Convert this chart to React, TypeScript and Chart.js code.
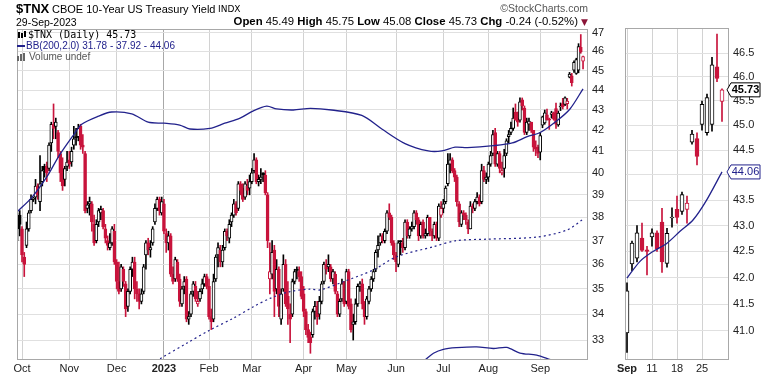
import React, { useEffect, useRef } from 'react';
import { Chart, registerables } from 'chart.js';

Chart.register(...registerables);

// ---------- data ----------
// trading days: index 0 = 29-Sep-2022 ... index 251 = 29-Sep-2023
const monthTickIdx = [2, 23, 44, 65, 85, 104, 127, 146, 168, 189, 209, 232];
const monthTickLabels = ['Oct', 'Nov', 'Dec', '2023', 'Feb', 'Mar', 'Apr', 'May', 'Jun', 'Jul', 'Aug', 'Sep'];
const mainYTicks = [33, 34, 35, 36, 37, 38, 39, 40, 41, 42, 43, 44, 45, 46, 47];

const opens = [
  38.0, 38.1,
  37.5, 36.3, 36.8, 37.5, 38.3, 38.8, 38.9, 39.4, 38.7, 39.6, 40.3, 40.3, 40.2, 41.4, 42.3, 42.2, 41.9, 40.9, 40.2, 39.7, 40.3,
  40.6, 40.5, 41.3, 41.7, 41.7, 42.2, 41.3, 40.9, 38.4, 38.6, 38.6, 37.7, 37.0, 37.8, 38.2, 38.3, 37.5, 37.0, 36.7, 36.9, 37.4,
  36.1, 35.3, 35.0, 35.8, 35.2, 34.3, 34.9, 35.8, 36.1, 35.0, 34.8, 34.5, 34.9, 36.4, 36.9, 36.6, 36.9, 37.8, 38.4, 38.8, 38.2,
  38.6, 37.3, 36.9, 37.2, 35.6, 35.4, 36.1, 35.4, 34.4, 35.1, 35.4, 33.8, 34.0, 34.9, 35.1, 34.4, 34.6, 35.0, 35.2, 35.5,
  35.1, 33.9, 33.8, 35.4, 36.4, 36.6, 36.1, 36.7, 37.4, 37.1, 37.8, 38.1, 38.6, 38.4, 39.5, 39.3, 38.9, 39.4, 39.3,
  39.6, 40.1, 40.6, 39.6, 39.7, 40.0, 39.9, 39.0, 35.4, 35.6, 36.6, 35.0, 35.8, 33.8, 35.0, 36.0, 34.7, 34.0, 34.0, 35.3, 35.8, 35.7, 35.5,
  34.8, 34.1, 33.4, 33.1, 33.2, 34.1, 34.3, 34.0, 34.5, 35.3, 36.0, 35.9, 35.9, 35.4, 35.6, 34.8, 34.0, 34.6, 35.3,
  34.5, 35.7, 34.4, 33.6, 33.7, 34.4, 35.1, 35.2, 34.4, 33.9, 34.5, 35.0, 35.4, 35.8, 36.6, 36.9, 37.2, 37.0, 37.4, 38.2, 38.0, 36.9,
  36.4, 36.0, 37.0, 36.9, 36.7, 37.8, 37.2, 37.5, 37.6, 38.2, 37.9, 37.2, 37.8, 37.2, 37.3, 38.0, 37.4, 37.2, 37.7, 37.1, 38.1,
  38.4, 38.7, 39.5, 40.4, 40.6, 40.1, 39.8, 38.6, 37.7, 38.2, 38.1, 37.8, 37.5, 38.5, 38.4, 38.7, 38.9, 38.7, 40.1, 39.7,
  39.8, 40.4, 40.9, 41.9, 40.4, 40.9, 40.0, 40.2, 40.9, 41.7, 41.9, 42.1, 42.9, 42.6, 42.5, 43.5, 43.1, 41.9, 42.3, 42.4, 42.0, 41.2, 41.2,
  40.96, 42.26, 42.37, 42.76, 42.53, 42.78, 42.86, 43.07, 42.27, 43.15, 43.32, 43.28, 43.32, 44.66, 44.73, 45.02, 44.85, 45.02, 46.21, 45.49,
];
const highs = [
  38.2, 38.3,
  37.6, 36.5, 37.8, 38.3, 39.0, 38.9, 39.7, 39.5, 40.8, 40.3, 40.4, 40.5, 41.4, 42.4, 43.3, 42.6, 42.0, 41.0, 40.7, 40.3, 41.0,
  41.0, 41.2, 42.2, 42.1, 42.3, 42.3, 41.8, 41.0, 38.7, 38.9, 38.7, 38.1, 37.9, 38.4, 38.5, 38.4, 37.7, 37.2, 37.3, 37.6, 37.7,
  36.2, 36.1, 36.0, 35.9, 35.3, 35.0, 35.9, 36.3, 36.3, 35.3, 35.0, 35.0, 36.0, 37.0, 37.1, 37.0, 37.6, 38.6, 38.9, 38.9, 38.9,
  38.8, 37.5, 37.4, 37.3, 35.9, 36.3, 36.2, 35.6, 35.1, 35.5, 35.5, 34.1, 34.9, 35.3, 35.3, 34.9, 35.0, 35.4, 35.6, 35.6,
  35.4, 34.2, 35.6, 36.4, 36.9, 36.8, 36.8, 37.5, 37.5, 37.9, 38.2, 38.8, 38.7, 39.6, 39.6, 39.5, 39.6, 39.7, 39.9,
  40.2, 40.9, 40.7, 39.9, 40.2, 40.0, 40.1, 39.1, 36.9, 37.0, 36.8, 36.2, 35.9, 35.0, 36.4, 36.2, 35.3, 34.4, 35.4, 35.8, 35.9, 35.9, 35.7,
  35.1, 34.2, 33.6, 33.3, 34.2, 34.5, 34.5, 34.7, 35.3, 36.1, 36.2, 36.4, 36.0, 35.8, 35.7, 34.9, 34.6, 35.4, 35.3,
  35.8, 35.8, 34.6, 34.0, 34.6, 35.2, 35.3, 35.4, 34.5, 34.7, 35.1, 35.5, 35.8, 36.6, 37.2, 37.3, 37.3, 37.5, 38.3, 38.6, 38.1, 37.0,
  36.5, 37.0, 37.0, 37.1, 37.9, 37.9, 37.6, 37.8, 38.3, 38.3, 38.0, 37.8, 37.9, 37.5, 38.1, 38.0, 37.5, 37.8, 37.8, 38.6, 38.7,
  38.8, 39.4, 40.9, 40.9, 40.7, 40.2, 39.9, 38.7, 38.3, 38.3, 38.2, 37.9, 38.7, 38.6, 38.8, 39.1, 39.0, 40.4, 40.3, 40.0,
  40.5, 41.0, 42.0, 42.1, 41.0, 41.0, 40.5, 41.1, 41.6, 42.0, 42.4, 43.1, 43.3, 42.9, 43.6, 43.6, 43.2, 42.6, 42.6, 42.4, 42.0, 41.5, 41.3,
  41.9, 42.7, 43.0, 43.05, 42.6, 42.94, 42.9, 43.34, 42.95, 43.35, 43.58, 43.66, 43.58, 44.9, 44.85, 45.5, 45.64, 46.41, 46.9, 45.75,
];
const lows = [
  37.0, 37.2,
  36.1, 35.5, 36.7, 37.4, 38.2, 38.7, 38.6, 38.8, 38.3, 39.4, 39.8, 39.6, 40.1, 41.0, 41.6, 41.6, 40.7, 39.6, 39.2, 39.4, 40.1,
  40.2, 40.3, 41.1, 41.3, 41.5, 41.1, 40.9, 38.2, 38.2, 38.1, 37.4, 36.8, 36.9, 37.6, 37.9, 37.5, 36.9, 36.6, 36.6, 36.8, 36.0,
  35.0, 34.8, 34.9, 35.1, 33.9, 34.1, 34.8, 35.5, 34.6, 34.5, 34.2, 34.4, 34.8, 35.8, 36.4, 36.3, 36.8, 37.7, 38.3, 38.1, 38.1,
  37.3, 36.5, 36.6, 35.5, 35.2, 35.3, 35.3, 34.3, 34.3, 34.8, 33.7, 33.6, 33.9, 34.7, 34.5, 34.3, 34.5, 34.8, 35.1, 35.0,
  33.8, 33.4, 33.7, 35.3, 35.9, 35.9, 35.9, 36.6, 37.0, 36.9, 37.6, 38.0, 38.1, 38.3, 39.0, 38.7, 38.8, 39.0, 39.0,
  39.5, 40.0, 39.5, 39.4, 39.5, 39.6, 39.0, 36.7, 34.8, 35.4, 33.9, 34.8, 33.9, 33.6, 34.9, 34.3, 33.6, 32.9, 33.9, 35.2, 35.4, 35.3, 34.6,
  33.9, 33.2, 32.9, 32.5, 33.1, 33.8, 33.6, 33.8, 34.4, 35.2, 35.6, 35.7, 35.3, 35.2, 34.8, 33.9, 33.9, 34.5, 34.3,
  34.4, 34.2, 33.3, 33.0, 33.6, 34.3, 34.9, 34.2, 33.6, 33.8, 34.4, 34.9, 35.3, 35.7, 36.3, 36.8, 36.9, 36.9, 37.3, 37.9, 36.8, 36.2,
  35.7, 35.9, 36.4, 36.5, 36.6, 37.1, 37.1, 37.4, 37.5, 37.7, 37.0, 37.1, 37.1, 37.1, 37.2, 37.2, 37.0, 37.1, 37.0, 37.0, 38.0,
  38.2, 38.6, 39.4, 40.0, 40.0, 39.6, 38.5, 37.6, 37.6, 37.9, 37.7, 37.3, 37.5, 38.2, 38.3, 38.6, 38.5, 38.6, 39.6, 39.5,
  39.6, 40.3, 40.8, 40.3, 40.3, 40.0, 39.9, 39.8, 40.8, 41.4, 41.8, 42.0, 42.5, 42.2, 42.4, 43.0, 41.8, 41.8, 42.0, 41.9, 41.0, 40.8, 40.7,
  40.6, 42.13, 42.3, 42.5, 42.05, 42.6, 42.5, 42.1, 42.2, 42.97, 43.05, 43.22, 43.05, 44.62, 44.2, 44.9, 44.8, 44.88, 45.9, 45.08,
];
const closes = [
  37.5, 37.7,
  36.4, 36.0, 37.5, 38.2, 38.8, 38.85, 39.4, 39.0, 39.5, 40.1, 40.15, 40.0, 41.3, 42.3, 42.1, 42.4, 41.0, 40.0, 39.4, 40.2, 40.5,
  40.4, 41.0, 41.6, 41.65, 42.1, 41.3, 41.2, 38.3, 38.55, 38.7, 37.8, 36.9, 37.7, 38.3, 38.35, 37.6, 37.1, 36.8, 36.9, 37.5, 36.1,
  35.3, 34.9, 35.9, 35.3, 34.2, 34.9, 35.8, 36.1, 35.0, 34.8, 34.5, 34.8, 35.9, 36.9, 36.6, 36.7, 37.5, 38.4, 38.8, 38.3, 38.7,
  37.4, 36.9, 37.2, 35.6, 35.3, 36.2, 35.4, 34.5, 35.0, 35.3, 33.8, 33.9, 34.8, 35.2, 34.6, 34.5, 34.9, 35.2, 35.5, 35.1,
  33.9, 33.7, 35.3, 36.3, 36.7, 36.1, 36.6, 37.4, 37.2, 37.7, 38.1, 38.6, 38.2, 39.5, 39.2, 38.8, 39.5, 39.2, 39.6,
  40.0, 40.6, 39.6, 39.7, 39.8, 39.9, 39.1, 37.0, 35.7, 36.5, 34.9, 35.8, 34.3, 34.8, 36.0, 34.4, 34.2, 33.8, 35.3, 35.7, 35.75, 35.5, 34.7,
  34.1, 33.4, 33.1, 32.9, 34.1, 34.3, 33.9, 34.5, 35.2, 36.0, 35.8, 36.0, 35.4, 35.7, 34.9, 34.0, 34.5, 35.2, 34.4,
  35.7, 34.3, 33.4, 33.7, 34.4, 35.1, 35.2, 34.4, 33.9, 34.6, 35.0, 35.4, 35.7, 36.5, 36.8, 37.2, 37.0, 37.4, 38.2, 38.0, 36.9, 36.4,
  36.1, 36.9, 36.95, 36.7, 37.8, 37.2, 37.5, 37.6, 38.2, 37.9, 37.2, 37.7, 37.2, 37.3, 38.0, 37.4, 37.2, 37.7, 37.1, 38.5, 38.4,
  38.6, 39.3, 40.4, 40.6, 40.1, 39.8, 38.7, 37.8, 38.2, 38.1, 37.9, 37.5, 38.5, 38.4, 38.7, 38.9, 38.6, 40.1, 39.7, 39.8,
  40.4, 40.8, 41.8, 40.4, 40.9, 40.2, 40.1, 40.8, 41.5, 41.8, 42.1, 42.6, 42.5, 42.4, 43.4, 43.2, 41.9, 42.4, 42.45, 42.0, 41.2, 41.1, 40.9,
  41.75, 42.66, 42.86, 42.52, 42.5, 42.86, 42.55, 42.3, 42.85, 43.17, 43.16, 43.61, 43.44, 44.82, 44.37, 45.43, 45.57, 46.25, 45.97, 45.73,
];

// Bollinger Bands (200, 2.0): [trading-day index, value]
const bbUpperIdx = [0, 6.5, 13, 18.5, 25, 28.5, 36, 41.8, 50.7, 58, 65, 72, 76.5, 85.4, 92, 98.8, 104.7, 110.6, 115, 122.4, 130, 139.4, 152.8, 161.7, 172, 182.3, 188.3, 194.2, 199.7, 211.2, 219.6, 226.2, 232, 239.4, 245.2, 251];
const bbUpperVal = [38.26, 38.9, 39.81, 40.8, 41.8, 42.3, 42.7, 42.9, 42.81, 42.4, 42.35, 42.26, 42.07, 42.1, 42.35, 42.6, 42.96, 43.19, 43.05, 43.0, 43.08, 43.0, 42.73, 42.07, 41.37, 41.02, 41.02, 41.2, 41.18, 41.27, 41.4, 41.7, 41.9, 42.47, 43.05, 44.06];
const bbMidIdx = [63.3, 75.1, 85.4, 95.8, 104.7, 112.1, 120.9, 129.8, 134.3, 144.6, 157.9, 168.3, 184.6, 194.9, 208.3, 230.4, 243.8, 251];
const bbMidVal = [32.3, 32.88, 33.38, 33.84, 34.29, 34.62, 34.89, 34.99, 34.96, 35.29, 35.77, 36.32, 36.74, 37.0, 37.06, 37.15, 37.45, 37.92];
const bbLowIdx = [180.9, 184.6, 189, 194.9, 203.8, 211.2, 217.1, 223, 230.4, 236.5];
const bbLowVal = [32.25, 32.5, 32.65, 32.71, 32.74, 32.68, 32.72, 32.51, 32.43, 32.26];

// September zoom panel
const sepStart = 232;
const sepTickIdx = [0, 5, 10, 15];
const sepTickLabels = ['Sep', '11', '18', '25'];
const sideYTicks = [41, 41.5, 42, 42.5, 43, 43.5, 44, 44.5, 45, 45.5, 46, 46.5];
const sideBBIdx = [0, 2.6, 5.2, 8, 10.6, 13.2, 15.8, 19];
const sideBBVal = [41.99, 42.31, 42.5, 42.66, 42.89, 43.11, 43.48, 44.06];
const lastClose = 45.73;
const lastUpperBB = 44.06;

// ---------- styling ----------
const RED = '#c8143c';
const INK = '#000000';
const NAVY = '#22228c';
const FONT = "'Liberation Sans', Arial, sans-serif";

Chart.defaults.font.family = FONT;

function candleSets(from: number, to: number, shift: number, bodyW: number) {
  const wicks: any[] = [];
  const bodies: any[] = [];
  const edge: string[] = [];
  const fill: string[] = [];
  for (let i = from; i <= to; i++) {
    const up = i === 0 || closes[i] >= closes[i - 1];
    const col = up ? INK : RED;
    const hollow = closes[i] >= opens[i];
    wicks.push({ x: i - shift, y: [lows[i], highs[i]] });
    bodies.push({ x: i - shift, y: [Math.min(opens[i], closes[i]), Math.max(opens[i], closes[i])] });
    edge.push(col);
    fill.push(hollow ? '#ffffff' : col);
  }
  return [
    { type: 'bar', data: wicks, backgroundColor: edge, borderWidth: 0, barThickness: 1, stack: 'c', order: 3, minBarLength: 1 },
    { type: 'bar', data: bodies, backgroundColor: fill, borderColor: edge, borderWidth: 1, borderSkipped: false, barThickness: bodyW, stack: 'c', order: 2, minBarLength: 1 },
  ];
}

function linePts(xs: number[], ys: number[]) {
  return xs.map((x, k) => ({ x, y: ys[k] }));
}

const framePlugin = {
  id: 'frame',
  afterDraw(chart: any) {
    const { ctx, chartArea: a } = chart;
    ctx.save();
    ctx.strokeStyle = '#a8a8a8';
    ctx.lineWidth = 1;
    ctx.strokeRect(a.left + 0.5, a.top + 0.5, a.right - a.left - 1, a.bottom - a.top - 1);
    ctx.restore();
  },
};

function drawTag(ctx: CanvasRenderingContext2D, x0: number, yc: number, text: string, color: string, bold: boolean) {
  const tip = x0 - 2;
  const bx = x0 + 2;
  const w = 29;
  const h = 14;
  ctx.save();
  ctx.beginPath();
  ctx.moveTo(tip, yc);
  ctx.lineTo(bx, yc - h / 2);
  ctx.lineTo(bx + w, yc - h / 2);
  ctx.lineTo(bx + w, yc + h / 2);
  ctx.lineTo(bx, yc + h / 2);
  ctx.closePath();
  ctx.fillStyle = '#ffffff';
  ctx.fill();
  ctx.strokeStyle = color;
  ctx.lineWidth = 1;
  ctx.stroke();
  ctx.fillStyle = color;
  ctx.font = `${bold ? 'bold ' : ''}11px ${FONT}`;
  ctx.textAlign = 'center';
  ctx.textBaseline = 'middle';
  ctx.fillText(text, bx + w / 2, yc + 0.5);
  ctx.restore();
}

const tagPlugin = {
  id: 'tags',
  afterDraw(chart: any) {
    const y = chart.scales.y;
    const x0 = chart.chartArea.right;
    drawTag(chart.ctx, x0, y.getPixelForValue(lastUpperBB), lastUpperBB.toFixed(2), NAVY, false);
    drawTag(chart.ctx, x0, y.getPixelForValue(lastClose), lastClose.toFixed(2), '#000000', true);
  },
};

function mainConfig(): any {
  return {
    type: 'bar',
    data: {
      datasets: [
        ...candleSets(0, closes.length - 1, 0, 3),
        { type: 'line', data: linePts(bbUpperIdx, bbUpperVal), borderColor: NAVY, borderWidth: 1.3, pointRadius: 0, tension: 0.3, order: 1 },
        { type: 'line', data: linePts(bbMidIdx, bbMidVal), borderColor: NAVY, borderWidth: 1.2, borderDash: [2, 3], pointRadius: 0, tension: 0.3, order: 1 },
        { type: 'line', data: linePts(bbLowIdx, bbLowVal), borderColor: NAVY, borderWidth: 1.3, pointRadius: 0, tension: 0.3, order: 1 },
      ],
    },
    options: {
      animation: false,
      responsive: false,
      devicePixelRatio: 1,
      events: [],
      layout: { autoPadding: false, padding: { left: 17, top: 29, right: 0, bottom: 0 } },
      plugins: { legend: { display: false }, tooltip: { enabled: false } },
      scales: {
        x: {
          type: 'linear', min: -0.22, max: 253.2, offset: false, bounds: 'data',
          grid: { offset: false, drawTicks: false, color: (c: any) => (c.tick && c.tick.value === 65 ? '#a8a8a8' : '#d2d2d2') },
          border: { display: false },
          afterBuildTicks: (s: any) => { s.ticks = monthTickIdx.map((v) => ({ value: v })); },
          afterFit: (s: any) => { s.height = 16; },
          ticks: {
            autoSkip: false, maxRotation: 0, padding: 2, color: '#222',
            font: (c: any) => ({ family: FONT, size: 11, weight: c.tick && c.tick.value === 65 ? 'bold' : 'normal' }),
            callback: (_v: any, i: number) => monthTickLabels[i],
          },
        },
        y: {
          type: 'logarithmic', position: 'right', min: 32.25, max: 47.2, bounds: 'data', stacked: false,
          grid: { drawTicks: false, color: '#e0e0e0' },
          border: { display: false },
          afterBuildTicks: (s: any) => { s.ticks = mainYTicks.map((v) => ({ value: v })); },
          afterFit: (s: any) => { s.width = 32; },
          ticks: { padding: 4, color: '#222', font: { family: FONT, size: 11 }, callback: (v: any) => String(v) },
        },
      },
    },
    plugins: [framePlugin],
  };
}

function sideConfig(): any {
  return {
    type: 'bar',
    data: {
      datasets: [
        ...candleSets(sepStart, closes.length - 1, sepStart, 4),
        { type: 'line', data: linePts(sideBBIdx, sideBBVal), borderColor: NAVY, borderWidth: 1.3, pointRadius: 0, tension: 0.3, order: 1 },
      ],
    },
    options: {
      animation: false,
      responsive: false,
      devicePixelRatio: 1,
      events: [],
      layout: { autoPadding: false, padding: { left: 25, top: 28, right: 0, bottom: 0 } },
      plugins: { legend: { display: false }, tooltip: { enabled: false } },
      scales: {
        x: {
          type: 'linear', min: -0.4, max: 20.4, offset: false, bounds: 'data',
          grid: { offset: false, drawTicks: false, color: '#d2d2d2' },
          border: { display: false },
          afterBuildTicks: (s: any) => { s.ticks = sepTickIdx.map((v) => ({ value: v })); },
          afterFit: (s: any) => { s.height = 16; },
          ticks: {
            autoSkip: false, maxRotation: 0, padding: 2, color: '#222',
            font: (c: any) => ({ family: FONT, size: 11, weight: c.index === 0 ? 'bold' : 'normal' }),
            callback: (_v: any, i: number) => sepTickLabels[i],
          },
        },
        y: {
          type: 'logarithmic', position: 'right', min: 40.46, max: 47.03, bounds: 'data', stacked: false,
          grid: { drawTicks: false, color: '#e0e0e0' },
          border: { display: false },
          afterBuildTicks: (s: any) => { s.ticks = sideYTicks.map((v) => ({ value: v })); },
          afterFit: (s: any) => { s.width = 41; },
          ticks: { padding: 4, color: '#222', font: { family: FONT, size: 11 }, callback: (v: any) => Number(v).toFixed(1) },
        },
      },
    },
    plugins: [framePlugin, tagPlugin],
  };
}

const abs = (o: React.CSSProperties): React.CSSProperties => ({ position: 'absolute', whiteSpace: 'nowrap', ...o });

export default function App() {
  const mainRef = useRef<HTMLCanvasElement>(null);
  const sideRef = useRef<HTMLCanvasElement>(null);

  useEffect(() => {
    const main = new Chart(mainRef.current as HTMLCanvasElement, mainConfig());
    const side = new Chart(sideRef.current as HTMLCanvasElement, sideConfig());
    return () => {
      main.destroy();
      side.destroy();
    };
  }, []);

  return (
    <div style={{ position: 'absolute', left: 0, top: 0, width: 770, height: 376, background: '#fff', overflow: 'hidden', fontFamily: FONT, color: '#000' }}>
      <canvas ref={mainRef} width={620} height={376} style={{ position: 'absolute', left: 0, top: 0 }} />
      <canvas ref={sideRef} width={170} height={376} style={{ position: 'absolute', left: 600, top: 0 }} />

      {/* header */}
      <div style={abs({ left: 16, top: 2, fontSize: 13, lineHeight: '13px', fontWeight: 'bold' })}>$TNX</div>
      <div style={abs({ left: 52, top: 3.7, fontSize: 11, lineHeight: '11px' })}>CBOE 10-Year US Treasury Yield</div>
      <div style={abs({ left: 218, top: 5.4, fontSize: 9, lineHeight: '9px', fontFamily: "'DejaVu Sans', sans-serif" })}>INDX</div>
      <div style={abs({ right: 182, top: 3, fontSize: 10.5, lineHeight: '10.5px', color: '#555' })}>©StockCharts.com</div>
      <div style={abs({ left: 16, top: 17, fontSize: 10.5, lineHeight: '10.5px' })}>29-Sep-2023</div>
      <div style={abs({ right: 182, top: 16.4, fontSize: 11.35, lineHeight: '11.35px' })}>
        <b>Open</b> 45.49 <b>High</b> 45.75 <b>Low</b> 45.08 <b>Close</b> 45.73 <b>Chg</b> -0.24 (-0.52%){' '}
        <span style={{ color: '#8b1538', fontSize: 9, fontFamily: "'DejaVu Sans', sans-serif" }}>▼</span>
      </div>

      {/* in-chart legend */}
      <svg style={{ position: 'absolute', left: 18, top: 31 }} width={9} height={8}>
        <rect x={0} y={1} width={2} height={6} fill="#000" />
        <rect x={3} y={2} width={2} height={5} fill="#000" />
        <rect x={6} y={0} width={2} height={6} fill="#000" />
      </svg>
      <div style={abs({ left: 28, top: 29.5, fontSize: 10, lineHeight: '10px', fontFamily: "'DejaVu Sans Mono', monospace" })}>$TNX (Daily) 45.73</div>
      <div style={abs({ left: 17, top: 45, width: 8, height: 2, background: NAVY })} />
      <div style={abs({ left: 26, top: 41, fontSize: 10, lineHeight: '10px', color: NAVY })}>BB(200,2.0) 31.78 - 37.92 - 44.06</div>
      <svg style={{ position: 'absolute', left: 17, top: 53 }} width={10} height={8}>
        <rect x={0} y={3} width={2} height={5} fill="#666" />
        <rect x={3} y={1} width={2} height={7} fill="#666" />
        <rect x={6} y={0} width={2} height={8} fill="#666" />
      </svg>
      <div style={abs({ left: 29, top: 52, fontSize: 10, lineHeight: '10px', color: '#555' })}>Volume undef</div>
    </div>
  );
}
